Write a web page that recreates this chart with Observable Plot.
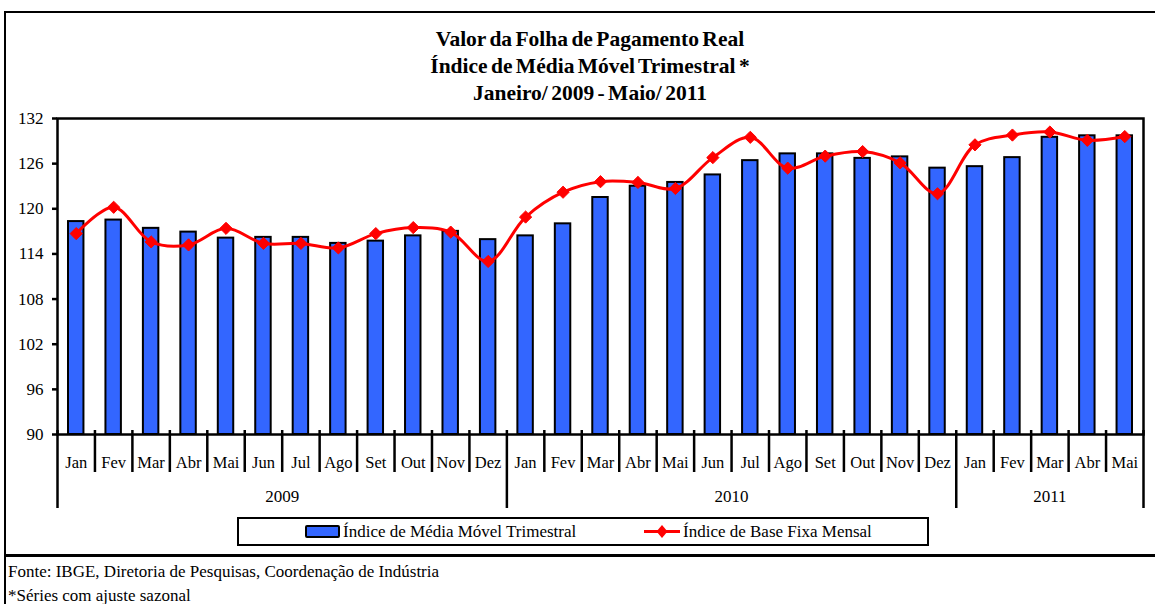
<!DOCTYPE html>
<html>
<head>
<meta charset="utf-8">
<script src="https://cdn.jsdelivr.net/npm/d3@7"></script>
<script src="https://cdn.jsdelivr.net/npm/@observablehq/plot@0.6"></script>
<style>
  html, body { margin: 0; padding: 0; background: #fff; }
  body { width: 1155px; height: 604px; position: relative; overflow: hidden; font-family: "Liberation Serif", "Times New Roman", serif; color: #000; }
  .frame-top { position: absolute; left: 4px; top: 11px; width: 1151px; height: 0; border-top: 2.5px solid #000; }
  .frame-left { position: absolute; left: 4px; top: 11px; width: 0; height: 593px; border-left: 2.5px solid #000; }
  .frame-bottom { position: absolute; left: 4px; top: 554px; width: 1151px; height: 0; border-top: 3px solid #000; }
  #title { position: absolute; left: 240px; top: 26px; width: 700px; text-align: center; font-weight: bold; font-size: 21.5px; line-height: 27px; word-spacing: -2px; }
  #chart { position: absolute; left: 0; top: 100px; }
  #legend { position: absolute; left: 237px; top: 517px; width: 688px; height: 25px; border: 2px solid #000; background: #fff; font-size: 17px; }
  #legend .item { position: absolute; top: 0; height: 25px; line-height: 25px; white-space: nowrap; }
  #legend .sw-bar { position: absolute; top: 6px; width: 31px; height: 9px; background: #3366FF; border: 2px solid #000; border-radius: 2px; }
  #legend svg { position: absolute; top: 0; }
  #footer { position: absolute; left: 8px; top: 560px; font-size: 17px; line-height: 24px; }
</style>
</head>
<body>
<div class="frame-top"></div>
<div class="frame-left"></div>
<div class="frame-bottom"></div>
<div id="title"></div>
<div id="chart"></div>
<div id="legend"></div>
<div id="footer"></div>
<script>
// ---- Data ----
const titleLines = ["Valor da Folha de Pagamento Real", "Índice de Média Móvel Trimestral *", "Janeiro/ 2009 - Maio/ 2011"];
const months = ["Jan","Fev","Mar","Abr","Mai","Jun","Jul","Ago","Set","Out","Nov","Dez",
                "Jan","Fev","Mar","Abr","Mai","Jun","Jul","Ago","Set","Out","Nov","Dez",
                "Jan","Fev","Mar","Abr","Mai"];
const yearLabels = ["2009", "2010", "2011"];
const yearCounts = [12, 12, 5];
const mediaMovelTrimestral = [118.3, 118.5, 117.4, 116.9, 116.1, 116.2, 116.2, 115.4, 115.7, 116.4, 117.0, 115.9,
                              116.4, 118.0, 121.5, 123.0, 123.5, 124.5, 126.4, 127.3, 127.3, 126.7, 126.9, 125.4,
                              125.6, 126.8, 129.5, 129.7, 129.7];
const baseFixaMensal = [116.7, 120.2, 115.6, 115.2, 117.4, 115.4, 115.4, 114.8, 116.7, 117.5, 116.9, 113.0,
                        118.9, 122.2, 123.6, 123.5, 122.7, 126.8, 129.5, 125.4, 127.0, 127.6, 126.1, 122.0,
                        128.5, 129.8, 130.2, 129.1, 129.6];
const yTicks = [90, 96, 102, 108, 114, 120, 126, 132];
const seriesNames = ["Índice de Média Móvel Trimestral", "Índice de Base Fixa Mensal"];
const footerLines = ["Fonte: IBGE, Diretoria de Pesquisas, Coordenação de Indústria", "*Séries com ajuste sazonal"];

// ---- Derived tables ----
const data = months.map((m, i) => ({i, month: m, media: mediaMovelTrimestral[i], base: baseFixaMensal[i]}));
let acc = 0;
const years = yearLabels.map((y, k) => { const start = acc; acc += yearCounts[k]; return {year: y, start, end: acc}; });
const yearBounds = [0, ...years.map(d => d.end)];
const monthBounds = d3.range(1, months.length).filter(i => !yearBounds.includes(i));

const yMin = yTicks[0];

// ---- Title / footer ----
document.getElementById("title").innerHTML = titleLines.map(t => `<div>${t}</div>`).join("");
document.getElementById("footer").innerHTML = footerLines.map(t => `<div>${t}</div>`).join("");

// ---- Chart ----
const chart = Plot.plot({
  width: 1155,
  height: 414,
  marginLeft: 57,
  marginRight: 12,
  marginTop: 18,
  marginBottom: 80,
  style: {fontFamily: "'Liberation Serif', 'Times New Roman', serif", fontSize: "16px", color: "#000", background: "transparent"},
  x: {type: "linear", domain: [0, months.length], axis: null},
  y: {domain: [yMin, yTicks[yTicks.length - 1]], axis: null},
  marks: [
    Plot.rectY(data, {x1: "i", x2: d => d.i + 1, y1: yMin, y2: "media", insetLeft: 11, insetRight: 11,
                      fill: "#3366FF", stroke: "#000", strokeWidth: 2}),
    Plot.frame({stroke: "#000", strokeWidth: 2.5}),
    Plot.axisY(yTicks, {tickSize: 5, tickPadding: 9, fontSize: 17, strokeWidth: 2.5, label: null}),
    Plot.ruleX(monthBounds, {x: d => d, y1: yMin, y2: yMin, insetTop: -4, insetBottom: -38, stroke: "#000", strokeWidth: 2.5}),
    Plot.ruleX(yearBounds, {x: d => d, y1: yMin, y2: yMin, insetTop: -4, insetBottom: -74, stroke: "#000", strokeWidth: 2.5}),
    Plot.text(data, {x: d => d.i + 0.5, y: yMin, text: "month", dy: 28, fontSize: 16.5}),
    Plot.text(years, {x: d => (d.start + d.end) / 2, y: yMin, text: "year", dy: 62, fontSize: 17}),
    Plot.line(data, {x: d => d.i + 0.5, y: "base", stroke: "#FF0000", strokeWidth: 3, curve: "catmull-rom"}),
    Plot.dot(data, {x: d => d.i + 0.5, y: "base", symbol: "diamond2", r: 5.5, fill: "#FF0000", stroke: "#FF0000", strokeWidth: 1})
  ]
});
document.getElementById("chart").appendChild(chart);

// ---- Legend ----
const legend = document.getElementById("legend");
legend.innerHTML = `
  <div class="sw-bar" style="left:66px"></div>
  <div class="item" style="left:104px">${seriesNames[0]}</div>
  <svg width="40" height="25" style="left:403px"><line x1="2" x2="38" y1="12.5" y2="12.5" stroke="#FF0000" stroke-width="3"/><path d="M20,6 L25.5,12.5 L20,19 L14.5,12.5 Z" fill="#FF0000"/></svg>
  <div class="item" style="left:444px">${seriesNames[1]}</div>`;
</script>
</body>
</html>
